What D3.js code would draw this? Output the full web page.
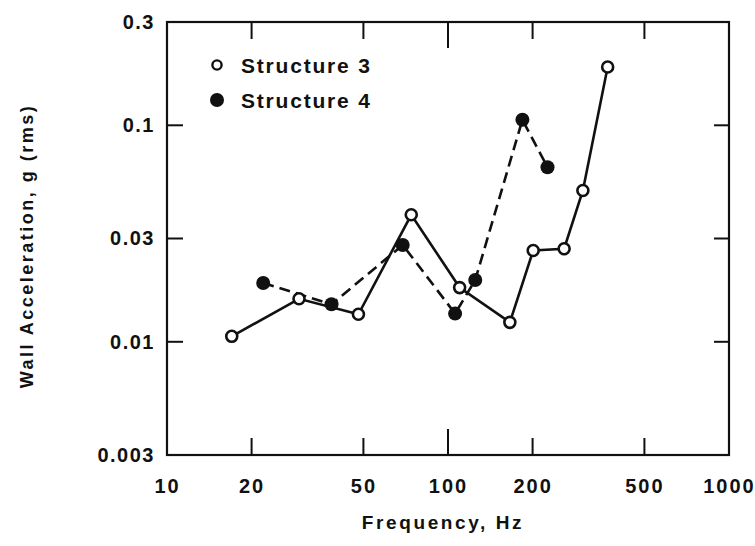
<!DOCTYPE html>
<html><head><meta charset="utf-8">
<script src="https://cdn.jsdelivr.net/npm/d3@7"></script>
<style>
html,body{margin:0;padding:0;background:#fff;}
text{font-family:"Liberation Sans",Arial,Helvetica,sans-serif;font-weight:bold;fill:#111;}
</style></head><body>
<svg id="c" width="755" height="546"></svg>
<script>
// Data
const s3Freq = [17, 29.5, 48, 74, 110, 166, 201, 259, 302, 370];
const s3Acc  = [0.0106, 0.0158, 0.0134, 0.0386, 0.0178, 0.0123, 0.0264, 0.0269, 0.050, 0.186];
const s4Freq = [22, 38.5, 69, 106, 125, 184, 226];
const s4Acc  = [0.0187, 0.0149, 0.028, 0.0135, 0.0193, 0.106, 0.064];
const xTickVals = [10, 20, 50, 100, 200, 500, 1000];
const xTickLabels = ["10", "20", "50", "100", "200", "500", "1000"];
const yTickVals = [0.003, 0.01, 0.03, 0.1, 0.3];
const yTickLabels = ["0.003", "0.01", "0.03", "0.1", "0.3"];
const seriesNames = ["Structure 3", "Structure 4"];

const svg = d3.select("#c");
const x = d3.scaleLog().domain([10, 1000]).range([167, 729]);
const y = d3.scaleLog().domain([0.003, 0.3]).range([455, 22]);
const ink = "#111";

// frame
svg.append("rect").attr("x", x(10)).attr("y", y(0.3))
  .attr("width", x(1000) - x(10)).attr("height", y(0.003) - y(0.3))
  .attr("fill", "none").attr("stroke", ink).attr("stroke-width", 2.2);

const inner = xTickVals.slice(1, -1);
const innerY = yTickVals.slice(1, -1);
const tickLen = v => v === 100 ? 26 : 17;

// bottom axis labels
const bottom = d3.axisBottom(x).tickValues(xTickVals)
  .tickFormat((d, i) => xTickLabels[i]).tickSize(0).tickPadding(24);
const gb = svg.append("g").attr("transform", `translate(0,${y(0.003)})`).call(bottom);
gb.select(".domain").remove();
gb.selectAll("text").attr("font-size", 20).attr("letter-spacing", 2).attr("fill", ink);
// bottom ticks (inward)
svg.selectAll(".bt").data(inner).join("line")
  .attr("x1", d => x(d)).attr("x2", d => x(d))
  .attr("y1", y(0.003)).attr("y2", d => y(0.003) - tickLen(d))
  .attr("stroke", ink).attr("stroke-width", 2);
// top ticks
svg.selectAll(".tt").data(inner).join("line")
  .attr("x1", d => x(d)).attr("x2", d => x(d))
  .attr("y1", y(0.3)).attr("y2", d => y(0.3) + tickLen(d))
  .attr("stroke", ink).attr("stroke-width", 2);

// left axis labels
const left = d3.axisLeft(y).tickValues(yTickVals)
  .tickFormat((d, i) => yTickLabels[i]).tickSize(0).tickPadding(12);
const gl = svg.append("g").attr("transform", `translate(${x(10)},0)`).call(left);
gl.select(".domain").remove();
gl.selectAll("text").attr("font-size", 20).attr("letter-spacing", 1.5).attr("fill", ink);
svg.selectAll(".lt").data(innerY).join("line")
  .attr("x1", x(10)).attr("x2", x(10) + 16)
  .attr("y1", d => y(d)).attr("y2", d => y(d))
  .attr("stroke", ink).attr("stroke-width", 2);
svg.selectAll(".rt").data(innerY).join("line")
  .attr("x1", x(1000)).attr("x2", x(1000) - 15)
  .attr("y1", d => y(d)).attr("y2", d => y(d))
  .attr("stroke", ink).attr("stroke-width", 2);

// axis titles
svg.append("text").attr("x", 443).attr("y", 529).attr("text-anchor", "middle")
  .attr("font-size", 19).attr("letter-spacing", 2.6).text("Frequency, Hz");
svg.append("text").attr("transform", "translate(33,246) rotate(-90)")
  .attr("text-anchor", "middle").attr("font-size", 18).attr("letter-spacing", 2.5)
  .text("Wall Acceleration, g (rms)");

// series
const line = d3.line().x(d => x(d[0])).y(d => y(d[1]));
const s3 = s3Freq.map((f, i) => [f, s3Acc[i]]);
const s4 = s4Freq.map((f, i) => [f, s4Acc[i]]);

svg.append("path").datum(s4).attr("d", line).attr("fill", "none")
  .attr("stroke", ink).attr("stroke-width", 2.6).attr("stroke-dasharray", "11,6");
svg.append("path").datum(s3).attr("d", line).attr("fill", "none")
  .attr("stroke", ink).attr("stroke-width", 2.6);

svg.selectAll(".p4").data(s4).join("circle")
  .attr("cx", d => x(d[0])).attr("cy", d => y(d[1])).attr("r", 7)
  .attr("fill", ink);
svg.selectAll(".p3").data(s3).join("circle")
  .attr("cx", d => x(d[0])).attr("cy", d => y(d[1])).attr("r", 5.5)
  .attr("fill", "#fff").attr("stroke", ink).attr("stroke-width", 2.6);

// legend
const lg = svg.append("g");
lg.append("circle").attr("cx", 217).attr("cy", 65).attr("r", 4.6)
  .attr("fill", "#fff").attr("stroke", ink).attr("stroke-width", 2.4);
lg.append("circle").attr("cx", 217).attr("cy", 100).attr("r", 7).attr("fill", ink);
lg.selectAll("text").data(seriesNames).join("text")
  .attr("x", 241).attr("y", (d, i) => 73 + i * 35)
  .attr("font-size", 21).attr("letter-spacing", 1.8).text(d => d);
</script>
</body></html>
